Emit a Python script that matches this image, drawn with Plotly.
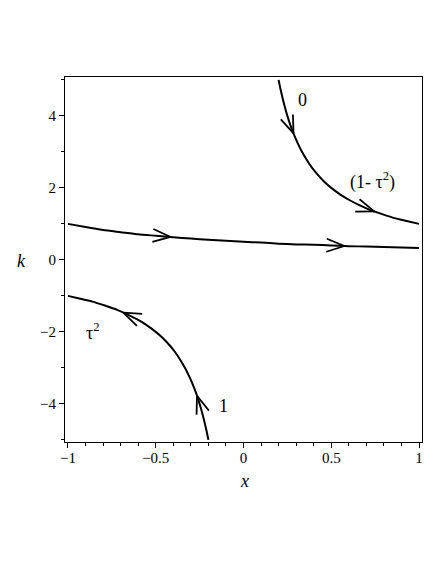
import numpy as np
import plotly.graph_objects as go

# ---- data ----
top_x = [0.20, 0.21, 0.22, 0.23, 0.24, 0.25, 0.27, 0.29, 0.31, 0.33, 0.36, 0.39, 0.42,
         0.46, 0.50, 0.55, 0.60, 0.66, 0.72, 0.79, 0.86, 0.93, 1.00]
top_k = [5.00, 4.76, 4.55, 4.35, 4.17, 4.00, 3.70, 3.45, 3.23, 3.03, 2.78, 2.56, 2.38,
         2.17, 2.00, 1.82, 1.67, 1.52, 1.39, 1.27, 1.16, 1.08, 1.00]

mid_x = [-1.0, -0.9, -0.8, -0.7, -0.6, -0.5, -0.4, -0.3, -0.2, -0.1, 0.0,
         0.1, 0.2, 0.3, 0.4, 0.5, 0.6, 0.7, 0.8, 0.9, 1.0]
mid_k = [1.00, 0.91, 0.83, 0.77, 0.71, 0.67, 0.63, 0.59, 0.56, 0.53, 0.50,
         0.48, 0.45, 0.43, 0.42, 0.40, 0.38, 0.37, 0.36, 0.34, 0.33]

bot_x = [-1.00, -0.93, -0.86, -0.79, -0.72, -0.66, -0.60, -0.55, -0.50, -0.46, -0.42,
         -0.39, -0.36, -0.33, -0.31, -0.29, -0.27, -0.25, -0.24, -0.23, -0.22, -0.21, -0.20]
bot_k = [-1.00, -1.08, -1.16, -1.27, -1.39, -1.52, -1.67, -1.82, -2.00, -2.17, -2.38,
         -2.56, -2.78, -3.03, -3.23, -3.45, -3.70, -4.00, -4.17, -4.35, -4.55, -4.76, -5.00]

# arrows: which curve, x of the tip, direction of travel along x
arrow_curve = ["top", "top", "mid", "mid", "bot", "bot"]
arrow_x = [0.285, 0.745, -0.415, 0.575, -0.685, -0.265]
arrow_dir = [1, 1, 1, 1, -1, -1]

label_text = ["0", "(1- τ<sup>2</sup>)", "τ<sup>2</sup>", "1"]
label_x = [0.336, 0.735, -0.86, -0.115]
label_k = [4.43, 2.2, -1.99, -4.07]

x_tickvals = [-1, -0.5, 0, 0.5, 1]
x_ticktext = ["\u22121", "\u22120.5", "0", "0.5", "1"]
y_tickvals = [-4, -2, 0, 2, 4]
y_ticktext = ["\u22124", "\u22122", "0", "2", "4"]

# ---- layout geometry ----
W, H = 436, 564
ML, MR, MT, MB = 65, 14, 77, 122
XR = [-1.017, 1.017]
YR = [-5.06, 5.08]
sx = (W - ML - MR) / (XR[1] - XR[0])
sy = (H - MT - MB) / (YR[1] - YR[0])

curves = {"top": (top_x, top_k), "mid": (mid_x, mid_k), "bot": (bot_x, bot_k)}

fig = go.Figure()
for name, (cx, ck) in curves.items():
    fig.add_trace(go.Scatter(x=cx, y=ck, mode="lines",
                             line=dict(color="black", width=2, shape="spline", smoothing=0.6),
                             hoverinfo="skip", showlegend=False))

# chevron arrowheads
L = 19
half = np.deg2rad(20)
ax_pts, ay_pts = [], []
for c, xa, d in zip(arrow_curve, arrow_x, arrow_dir):
    cx, ck = curves[c]
    ka = np.interp(xa, cx, ck)
    h = 0.01
    k1 = np.interp(xa - h, cx, ck)
    k2 = np.interp(xa + h, cx, ck)
    # tangent in screen pixels (y down)
    tx, ty = 2 * h * sx, -(k2 - k1) * sy
    n = np.hypot(tx, ty)
    bx, by = -d * tx / n, -d * ty / n
    for s in (1, -1):
        rx = bx * np.cos(s * half) - by * np.sin(s * half)
        ry = bx * np.sin(s * half) + by * np.cos(s * half)
        ax_pts += [xa + L * rx / sx, xa]
        ay_pts += [ka - L * ry / sy, ka]
        ax_pts.append(None)
        ay_pts.append(None)
fig.add_trace(go.Scatter(x=ax_pts, y=ay_pts, mode="lines",
                         line=dict(color="black", width=1.8),
                         hoverinfo="skip", showlegend=False))

serif = "Liberation Serif, Times New Roman, serif"
for t, xl, kl in zip(label_text, label_x, label_k):
    fig.add_annotation(x=xl, y=kl, xref="x", yref="y", text=t, showarrow=False,
                       xanchor="center", yanchor="middle",
                       font=dict(family=serif, size=18, color="black"))

# axis titles
pw = W - ML - MR
ph = H - MT - MB
fig.add_annotation(x=(21.7 - ML) / pw, y=(H - MB - 261) / ph, xref="paper", yref="paper",
                   text="<i>k</i>", showarrow=False, xanchor="center", yanchor="middle",
                   font=dict(family=serif, size=18, color="black"))
fig.add_annotation(x=(244 - ML) / pw, y=(H - MB - 481) / ph, xref="paper", yref="paper",
                   text="<i>x</i>", showarrow=False, xanchor="center", yanchor="middle",
                   font=dict(family=serif, size=18, color="black"))

axis_common = dict(showline=True, linecolor="black", linewidth=1, mirror=True,
                   showgrid=False, zeroline=False, ticks="outside", ticklen=5,
                   tickcolor="black", tickwidth=1,
                   tickfont=dict(family=serif, size=15, color="black"))
fig.update_xaxes(range=XR, tickmode="array", tickvals=x_tickvals, ticktext=x_ticktext,
                 ticklabelstandoff=-3,
                 minor=dict(dtick=0.1, tick0=0, ticks="outside", ticklen=3,
                            tickcolor="black", showgrid=False),
                 **axis_common)
fig.update_yaxes(range=YR, tickmode="array", tickvals=y_tickvals, ticktext=y_ticktext,
                 minor=dict(dtick=1, tick0=0, ticks="outside", ticklen=3,
                            tickcolor="black", showgrid=False),
                 **axis_common)

fig.update_layout(width=W, height=H, margin=dict(l=ML, r=MR, t=MT, b=MB),
                  plot_bgcolor="white", paper_bgcolor="white", showlegend=False)
fig.write_html("out.html", config={"displayModeBar": False},
               post_script="document.body.style.margin='0px';document.body.style.overflow='hidden';")
